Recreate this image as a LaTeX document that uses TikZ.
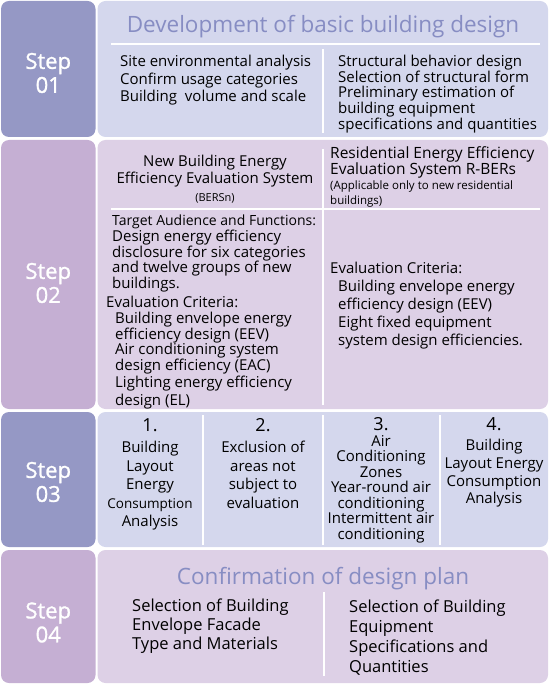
\documentclass[tikz,border=0pt]{standalone}
\usepackage{fontspec}
\setmainfont{Open Sans}
\newfontfamily\stepfont[FakeBold=1.2]{Open Sans}
\usetikzlibrary{positioning}
\definecolor{stepblue}{HTML}{9598C5}
\definecolor{stepmauve}{HTML}{C5AFD3}
\definecolor{paneblue}{HTML}{D4D7ED}
\definecolor{panemauve}{HTML}{DDD0E6}
\definecolor{titleblue}{HTML}{878DC3}
\begin{document}
\begin{tikzpicture}[x=1pt, y=-1pt,
  stepbox/.style={rounded corners=8pt, minimum width=94.5pt, inner sep=0pt, text=white, align=center, font=\stepfont\fontsize{22}{24}\selectfont},
  pane/.style={rounded corners=8pt, minimum width=450.5pt, inner sep=0pt},
  title/.style={text=titleblue, inner sep=0pt, font=\fontsize{22.5}{24}\selectfont},
  body/.style={inner sep=0pt, anchor=north west, align=left, font=\fontsize{15}{17.5}\selectfont},
  col/.style={inner sep=0pt, anchor=north, align=center, font=\fontsize{15}{18.5}\selectfont},
  divider/.style={white, line width=2pt}]

  \useasboundingbox (0,0) rectangle (549,684);

  % Step boxes
  \node[stepbox, fill=stepblue, minimum height=136pt] (step1) at (48.25,69) {};
  \node[stepbox, fill=stepmauve, minimum height=269pt] (step2) at (48.25,274.5) {};
  \node[stepbox, fill=stepblue, minimum height=135pt] (step3) at (48.25,479.5) {};
  \node[stepbox, fill=stepmauve, minimum height=133pt] (step4) at (48.25,616.5) {};
  \node[stepbox] (lab1) at (48.25,73) {Step\\01};
  \node[stepbox] (lab2) at (48.25,283) {Step\\02};
  \node[stepbox] (lab3) at (48.25,482) {Step\\03};
  \node[stepbox] (lab4) at (48.25,622.5) {Step\\04};

  % Panes
  \node[pane, fill=paneblue, minimum height=136pt] (pane1) at (322.75,69) {};
  \node[pane, fill=panemauve, minimum height=269pt] (pane2) at (322.75,274.5) {};
  \node[pane, fill=paneblue, minimum height=135pt] (pane3) at (322.75,479.5) {};
  \node[pane, fill=panemauve, minimum height=133pt] (pane4) at (322.75,616.5) {};

  % First step
  \node[title] (t1) at (323,27) {Development of basic building design};
  \node[body] (s1a) at (120,55) {Site environmental analysis\\Confirm usage categories\\Building\ \ volume and scale};
  \node[body, font=\fontsize{15}{14.8}\selectfont] (s1b) at (338,55) {Structural behavior design\\Selection of structural form\\Preliminary estimation of\\building equipment\\specifications and quantities};

  % Second step
  \node[col, font=\fontsize{15}{17}\selectfont] (s2a) at (215,155) {New Building Energy\\Efficiency Evaluation System};
  \node[inner sep=0pt, font=\fontsize{11}{13}\selectfont] (s2n) at (215,198) {(BERSn)};
  \node[body, font=\fontsize{15.5}{16.5}\selectfont] (s2b) at (330,146) {Residential Energy Efficiency\\Evaluation System R-BERs};
  \node[body, font=\fontsize{11.5}{14.5}\selectfont] (s2c) at (330,181) {(Applicable only to new residential\\buildings)};
  \node[body, font=\fontsize{15}{15.7}\selectfont] (s2d) at (112,215) {{\fontsize{14}{15.7}\selectfont Target Audience and Functions:}\\Design energy efficiency\\disclosure for six categories\\and twelve groups of new\\buildings.};
  \node[body] (s2e) at (106,296) {Evaluation Criteria:};
  \node[body, font=\fontsize{15}{15}\selectfont] (s2f) at (115,312) {Building envelope energy\\efficiency design (EEV)\\Air conditioning system\\design efficiency (EAC)};
  \node[body, font=\fontsize{15}{18}\selectfont] (s2g) at (115,376) {Lighting energy efficiency\\design (EL)};
  \node[body] (s2h) at (330,262) {Evaluation Criteria:};
  \node[body, font=\fontsize{15}{18}\selectfont] (s2i) at (338,280) {Building envelope energy\\efficiency design (EEV)\\Eight fixed equipment\\system design efficiencies.};

  % Third step
  \node[col, font=\fontsize{18}{20}\selectfont] (n1) at (150,418) {1.};
  \node[col] (c1) at (150,441) {Building\\Layout\\Energy\\{\fontsize{13.5}{18.5}\selectfont Consumption}\\Analysis};
  \node[col, font=\fontsize{18}{20}\selectfont] (n2) at (263,418) {2.};
  \node[col] (c2) at (263,441) {Exclusion of\\areas not\\subject to\\evaluation};
  \node[col, font=\fontsize{18}{20}\selectfont] (n3) at (381,417) {3.};
  \node[col, font=\fontsize{15}{15.5}\selectfont] (c3) at (381,435) {Air\\Conditioning\\Zones\\Year-round air\\conditioning\\Intermittent air\\conditioning};
  \node[col, font=\fontsize{18}{20}\selectfont] (n4) at (494,417) {4.};
  \node[col, font=\fontsize{15}{17.7}\selectfont] (c4) at (494,439) {Building\\Layout Energy\\Consumption\\Analysis};

  % Fourth step
  \node[title] (t4) at (323,579) {Confirmation of design plan};
  \node[body, font=\fontsize{16.5}{19}\selectfont] (s4a) at (132,599) {Selection of Building\\Envelope Facade\\Type and Materials};
  \node[body, font=\fontsize{16.5}{20}\selectfont] (s4b) at (349,600) {Selection of Building\\Equipment\\Specifications and\\Quantities};

  % Divider ends
  \coordinate (h1a) at (111,44);  \coordinate (h1b) at (540,44);
  \coordinate (v1a) at (323,49);  \coordinate (v1b) at (323,133);
  \coordinate (h2a) at (111,209); \coordinate (h2b) at (540,209);
  \coordinate (v2a) at (323,149); \coordinate (v2b) at (323,405);
  \coordinate (v3a) at (203,415); \coordinate (v3b) at (203,545);
  \coordinate (v4a) at (323,415); \coordinate (v4b) at (323,545);
  \coordinate (v5a) at (440,415); \coordinate (v5b) at (440,545);
  \coordinate (v6a) at (324,592); \coordinate (v6b) at (324,676);

  % White dividers
  \draw[divider] (h1a) -- (h1b);
  \draw[divider] (v1a) -- (v1b);
  \draw[divider] (h2a) -- (h2b);
  \draw[divider] (v2a) -- (v2b);
  \draw[divider] (v3a) -- (v3b);
  \draw[divider] (v4a) -- (v4b);
  \draw[divider] (v5a) -- (v5b);
  \draw[divider] (v6a) -- (v6b);

\end{tikzpicture}
\end{document}
